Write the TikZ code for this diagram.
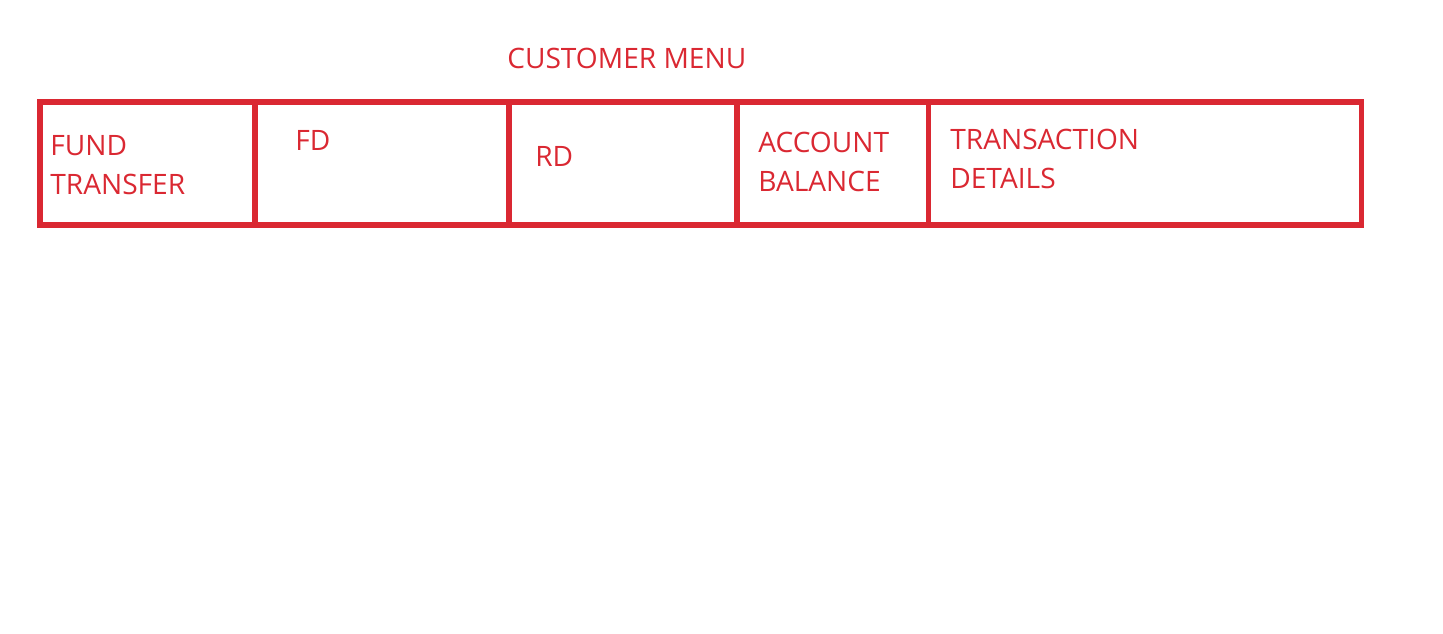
\documentclass[tikz,border=0pt]{standalone}
\usepackage{fontspec}
\setmainfont{Open Sans}
\usetikzlibrary{positioning}
\definecolor{menured}{RGB}{218,40,50}

\begin{document}
\begin{tikzpicture}
        [x=0.02cm, y=-0.02cm,
        cell/.style={rectangle, draw=menured, line width=3pt, outer sep=0pt, inner sep=0pt, minimum height=2.46cm},
        label/.style={anchor=base west, inner sep=0pt, text=menured, align=left, font=\fontsize{16}{22}\selectfont}]
        \useasboundingbox (0,0) rectangle (1443,633);
        \node[cell, minimum width=4.3cm, anchor=north west] (fund) at (40,102) {};
        \node[cell, minimum width=5.08cm, right=0pt of fund] (fd) {};
        \node[cell, minimum width=4.56cm, right=0pt of fd] (rd) {};
        \node[cell, minimum width=3.84cm, right=0pt of rd] (bal) {};
        \node[cell, minimum width=8.66cm, right=0pt of bal] (trans) {};
        \node[label] (title) at (507,68) {CUSTOMER MENU};
        \node[label] (l1) at (50,194) {FUND\\TRANSFER};
        \node[label] (l2) at (295,150) {FD};
        \node[label] (l3) at (535,166) {RD};
        \node[label] (l4) at (758,191) {ACCOUNT\\BALANCE};
        \node[label] (l5) at (950,188) {TRANSACTION\\DETAILS};
    \end{tikzpicture}
\end{document}
